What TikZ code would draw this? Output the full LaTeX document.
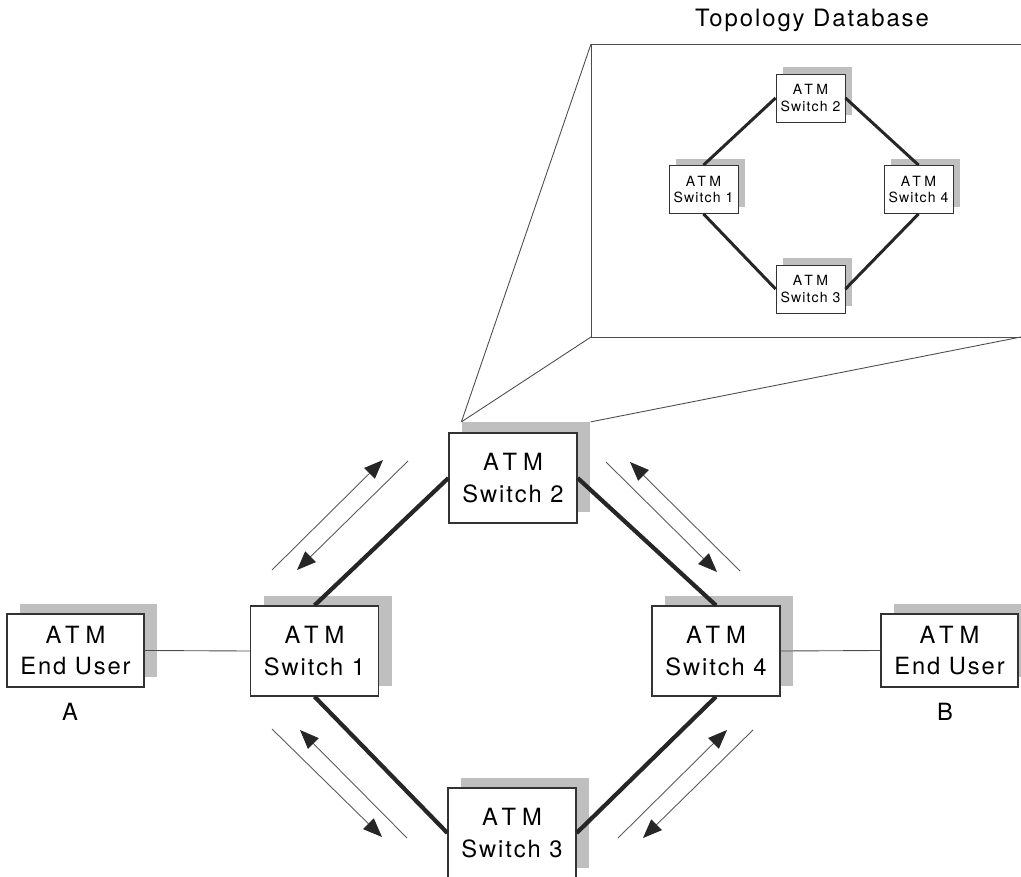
\documentclass[tikz,border=0pt]{standalone}
\usepackage{fontspec}
\setmainfont[LetterSpace=8]{TeX Gyre Heros}
\newfontfamily\atmfont[LetterSpace=25]{TeX Gyre Heros}
\usepackage{tikz}
\usetikzlibrary{arrows.meta, positioning, shadows}

\begin{document}
\begin{tikzpicture}[scale=1,
  switch/.style={draw=black!80, fill=white, line width=0.7pt, align=center, inner sep=0pt,
    minimum width=2.56cm, minimum height=1.8cm, font=\fontsize{13.5}{18}\selectfont,
    general shadow={fill=black!25, shadow xshift=0.26cm, shadow yshift=0.21cm}},
  enduser/.style={switch, minimum width=2.74cm, minimum height=1.46cm},
  minisw/.style={draw=black!80, fill=white, line width=0.5pt, align=center, inner sep=0pt,
    minimum width=1.38cm, minimum height=0.96cm, font=\fontsize{8}{9.5}\selectfont,
    general shadow={fill=black!25, shadow xshift=0.13cm, shadow yshift=0.13cm}},
  link/.style={line width=2.4pt, draw=black!85},
  minilink/.style={line width=1.7pt, draw=black!85},
  thin/.style={line width=0.5pt, draw=black!70},
  flow/.style={line width=0.5pt, draw=black!65, -{Triangle[length=0.38cm, width=0.3cm, color=black!85]}}
]
\useasboundingbox (0,0) rectangle (20.42,17.52);

% topology database
\node (title) at (16.24,17.12) {\fontsize{13.6}{16}\selectfont Topology Database};
\coordinate (tdtop) at (11.82,16.64);
\coordinate (tdbot) at (11.82,10.78);
\coordinate (tdright) at (20.42,10.78);
\draw [thin] (20.42,16.64) -- (tdtop) -- (tdbot) -- (tdright);

\node[minisw] (is2) at (16.21,15.56) {{\atmfont ATM}\\Switch 2};
\node[minisw] (is1) at (14.07,13.73) {{\atmfont ATM}\\Switch 1};
\node[minisw] (is4) at (18.37,13.73) {{\atmfont ATM}\\Switch 4};
\node[minisw] (is3) at (16.21,11.74) {{\atmfont ATM}\\Switch 3};

\draw [minilink] (is1.north) -- (is2.west);
\draw [minilink] (is2.east) -- (is4.north);
\draw [minilink] (is1.south) -- (is3.west);
\draw [minilink] (is3.east) -- (is4.south);

% network
\node[switch] (sw2) at (10.26,7.96) {{\atmfont ATM}\\Switch 2};
\node[switch] (sw1) at (6.29,4.5) {{\atmfont ATM}\\Switch 1};
\node[switch] (sw4) at (14.32,4.5) {{\atmfont ATM}\\Switch 4};
\node[switch] (sw3) at (10.24,0.86) {{\atmfont ATM}\\Switch 3};
\node[enduser] (userA) at (1.51,4.51) {{\atmfont ATM}\\End User};
\node[enduser] (userB) at (18.99,4.51) {{\atmfont ATM}\\End User};
\node[font=\fontsize{13.5}{16}\selectfont] (labA) at (1.40,3.28) {A};
\node[font=\fontsize{13.5}{16}\selectfont] (labB) at (18.90,3.28) {B};

\draw [link] (sw1.north) -- (sw2.west);
\draw [link] (sw2.east) -- (sw4.north);
\draw [link] (sw1.south) -- (sw3.west);
\draw [link] (sw3.east) -- (sw4.south);
\draw [thin] (userA.east) -- (sw1.west);
\draw [thin] (sw4.east) -- (userB.west);

% zoom lines
\draw [thin] ([shift={(0.26,0.21)}]sw2.north west) -- (tdtop);
\draw [thin] ([shift={(0.26,0.21)}]sw2.north west) -- (tdbot);
\draw [thin] ([shift={(0.26,0.21)}]sw2.north east) -- (tdright);

% traffic
\coordinate (f1a) at (5.44,6.12);  \coordinate (f1b) at (7.66,8.32);
\coordinate (f2a) at (8.16,8.30);  \coordinate (f2b) at (5.94,6.12);
\coordinate (f3a) at (12.12,8.28); \coordinate (f3b) at (14.34,6.08);
\coordinate (f4a) at (14.80,6.10); \coordinate (f4b) at (12.60,8.28);
\coordinate (f5a) at (5.44,2.94);  \coordinate (f5b) at (7.64,0.78);
\coordinate (f6a) at (8.14,0.76);  \coordinate (f6b) at (6.00,2.92);
\coordinate (f7a) at (12.36,0.76); \coordinate (f7b) at (14.54,2.92);
\coordinate (f8a) at (15.06,2.92); \coordinate (f8b) at (12.86,0.76);
\foreach \i in {1,...,8}
  \draw [flow] (f\i a) -- (f\i b);
\end{tikzpicture}
\end{document}
